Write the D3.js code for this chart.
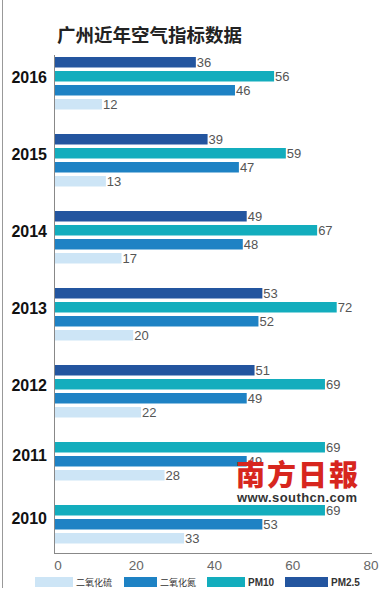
<!DOCTYPE html>
<html><head><meta charset="utf-8">
<script src="https://cdn.jsdelivr.net/npm/d3@7"></script>
<style>html,body{margin:0;padding:0;background:#fff;}svg{display:block;}</style>
</head><body>
<svg id="c" width="392" height="600"></svg>
<script>
const title = "广州近年空气指标数据";
const years = ["2016","2015","2014","2013","2012","2011","2010"];
const seriesKeys = ["PM2.5","PM10","二氧化氮","二氧化硫"];
const pm25 = [36,39,49,53,51,null,null];
const pm10 = [56,59,67,72,69,69,69];
const no2  = [46,47,48,52,49,49,53];
const so2  = [12,13,17,20,22,28,33];
const xTicks = [0,20,40,60,80];
const legendItems = ["二氧化硫","二氧化氮","PM10","PM2.5"];
const colors = {"PM2.5":"#23559f","PM10":"#13adbd","二氧化氮":"#1e82c4","二氧化硫":"#cde5f6"};

const svg = d3.select("#c");
const font = "'Liberation Sans', Arial, sans-serif";

svg.append("line").attr("x1",2.5).attr("x2",2.5).attr("y1",0).attr("y2",588)
  .attr("stroke","#999").attr("stroke-width",1);

svg.append("text").attr("x",57).attr("y",42)
  .attr("font-family","'Noto Sans CJK SC', sans-serif").attr("font-weight","bold")
  .attr("font-size",18.5).attr("fill","#222").text(title);

const x = d3.scaleLinear().domain([0,80]).range([55,368]);
const slot = d3.scaleLinear().domain([0,1]).range([57,71]);
const barH = 10.5, gapSlots = 1.5;

const valuesBy = {"PM2.5":pm25,"PM10":pm10,"二氧化氮":no2,"二氧化硫":so2};
let cursor = 0;
const bars = [], groups = [];
years.forEach((yr,i)=>{
  const start = cursor;
  seriesKeys.forEach(k=>{
    const v = valuesBy[k][i];
    if (v == null) return;
    bars.push({year:yr,key:k,value:v,slot:cursor});
    cursor += 1;
  });
  groups.push({year:yr,start:start,end:cursor});
  cursor += gapSlots;
});

const g = svg.append("g");
g.selectAll("rect.bar").data(bars).join("rect").attr("class","bar")
  .attr("x",x(0)).attr("y",d=>slot(d.slot))
  .attr("width",d=>x(d.value)-x(0)).attr("height",barH)
  .attr("fill",d=>colors[d.key]);

g.selectAll("text.val").data(bars).join("text").attr("class","val")
  .attr("x",d=>x(d.value)+1).attr("y",d=>slot(d.slot)+barH/2+4.6)
  .attr("font-family",font).attr("font-size",13).attr("fill","#555")
  .text(d=>d.value);

g.selectAll("text.yr").data(groups).join("text").attr("class","yr")
  .attr("x",47).attr("y",d=>(slot(d.start)+slot(d.end))/2 - 8)
  .attr("dy","0.35em").attr("text-anchor","end")
  .attr("font-family",font).attr("font-weight","bold").attr("font-size",16).attr("fill","#111")
  .text(d=>d.year);

const axisBottomY = 553;
svg.append("line").attr("x1",54.5).attr("x2",54.5).attr("y1",55).attr("y2",axisBottomY)
  .attr("stroke","#888");
svg.append("line").attr("x1",54).attr("x2",372).attr("y1",axisBottomY+0.5).attr("y2",axisBottomY+0.5)
  .attr("stroke","#888");
svg.selectAll("text.tick").data(xTicks).join("text").attr("class","tick")
  .attr("x",d=>x(d)+3).attr("y",570).attr("text-anchor","middle")
  .attr("font-family",font).attr("font-size",13.5).attr("fill","#666").text(d=>d);

const legX = [35,124,207,285];
const legW = [38,33,38,43];
const lg = svg.selectAll("g.leg").data(legendItems).join("g").attr("class","leg")
  .attr("transform",(d,i)=>`translate(${legX[i]},577)`);
lg.append("rect").attr("width",(d,i)=>legW[i]).attr("height",10).attr("fill",d=>colors[d]);
lg.append("text").attr("x",(d,i)=>legW[i]+3).attr("y",9)
  .attr("font-family",d=>/PM/.test(d)?font:"'Noto Sans CJK SC', sans-serif")
  .attr("font-size",d=>/PM/.test(d)?10:9).attr("font-weight",d=>/PM/.test(d)?"bold":"normal")
  .attr("fill","#333").text(d=>d);

svg.append("text").attr("x",236).attr("y",486)
  .attr("font-family","'Noto Sans CJK TC', serif").attr("font-weight","900")
  .attr("font-size",29).attr("fill","#d7261e").attr("letter-spacing",2).text("南方日報");
svg.append("text").attr("x",237).attr("y",502)
  .attr("font-family",font).attr("font-weight","bold")
  .attr("font-size",13).attr("fill","#333").attr("textLength",120).text("www.southcn.com");
</script>
</body></html>
